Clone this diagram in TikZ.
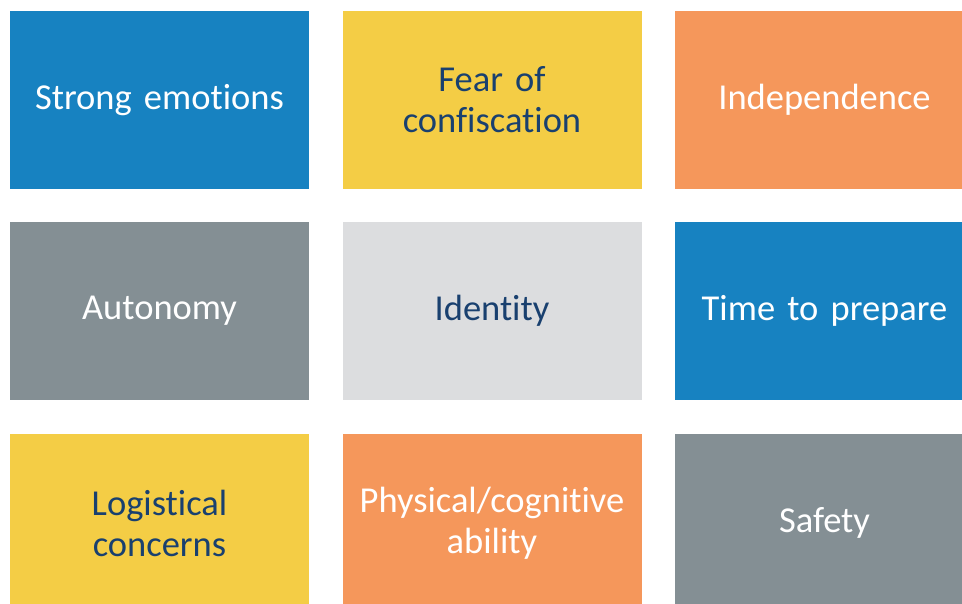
\documentclass[tikz,border=0pt]{standalone}
\usepackage{fontspec}
\setmainfont{Carlito}[RawFeature={-liga;-clig;-dlig;-calt}, WordSpace=0.85]
\definecolor{cblue}{HTML}{1782C1}
\definecolor{cyellow}{HTML}{F4CD45}
\definecolor{corange}{HTML}{F5975B}
\definecolor{cgray}{HTML}{848F94}
\definecolor{clight}{HTML}{DCDDDF}
\definecolor{cnavy}{HTML}{19406F}
\begin{document}
\begin{tikzpicture}[x=1pt,y=-1pt,
  tile/.style={rectangle, minimum width=299pt, minimum height=178pt, inner sep=0pt, align=center,
     font=\fontsize{36.5}{41}\selectfont, text width=290pt},
  wtxt/.style={text=white}, ntxt/.style={text=cnavy}]
\clip (0,0) rectangle (962,603);
\useasboundingbox (0,0) rectangle (962,603);
\fill[white] (0,0) rectangle (962,603);
\node[tile, fill=cblue, wtxt] (a1) at (159.5,100) {Strong emotions};
\node[tile, fill=cyellow, ntxt] (a2) at (492,100) {Fear of\\confiscation};
\node[tile, fill=corange, wtxt] (a3) at (824.5,100) {Independence};
\node[tile, fill=cgray, wtxt] (b1) at (159.5,311) {Autonomy};
\node[tile, fill=clight, ntxt] (b2) at (492,311) {Identity};
\node[tile, fill=cblue, wtxt] (b3) at (824.5,311) {Time to prepare};
\node[tile, fill=cyellow, ntxt] (c1) at (159.5,523) {Logistical\\concerns};
\node[tile, fill=corange, wtxt] (c2) at (492,523) {Physical/cognitive\\ability};
\node[tile, fill=cgray, wtxt] (c3) at (824.5,523) {Safety};
\end{tikzpicture}
\end{document}
